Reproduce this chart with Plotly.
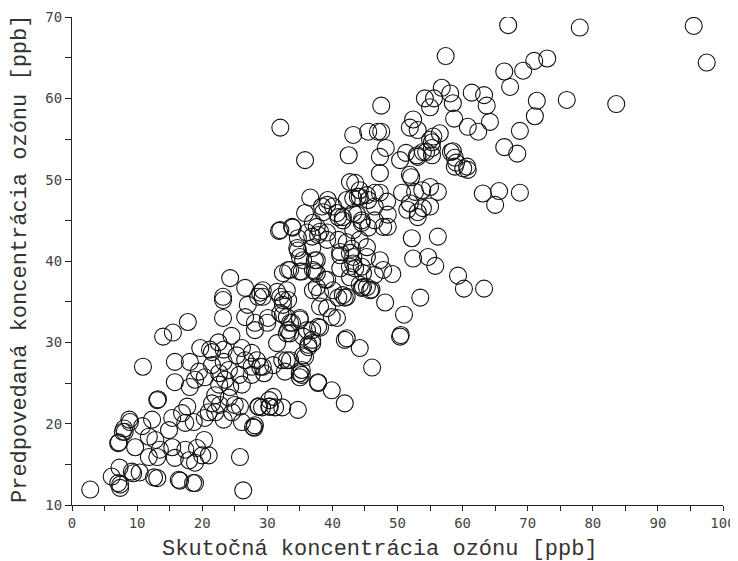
import plotly.graph_objects as go

# Actual (measured) ozone concentration [ppb]
actual = [
    67.0, 78.0, 95.5, 97.5, 57.4, 66.4, 69.3, 71.0, 73.0, 67.3, 56.8, 58.1, 58.5, 55.6, 61.4, 63.3, 63.7, 64.2, 71.4, 71.1,
    76.0, 83.6, 68.8, 66.4, 68.4, 62.4, 60.8, 58.7, 56.5, 55.5, 55.3, 58.5, 58.8, 60.1, 60.7, 56.2, 63.1, 65.6, 65.0, 68.8,
    55.0, 52.2, 56.2, 52.4, 54.7, 55.8, 59.3, 60.2, 63.3, 53.5, 48.1, 51.0, 50.5, 47.3, 49.2, 46.5, 45.3, 45.8, 47.8, 48.5,
    50.7, 53.8, 51.5, 53.1, 53.9, 53.1, 47.5, 54.2, 55.0, 52.4, 51.9, 53.1, 43.2, 47.0, 47.5, 42.5, 47.3, 50.4, 53.0, 53.9,
    55.3, 55.3, 58.8, 60.8, 35.8, 43.5, 47.3, 51.9, 55.0, 52.7, 51.9, 45.3, 47.3, 43.9, 46.5, 48.4, 48.5, 43.8, 41.6, 40.1,
    38.6, 36.6, 39.3, 42.2, 48.2, 52.1, 51.3, 53.1, 54.4, 55.0, 58.2, 59.0, 45.5, 45.5, 46.5, 32.0, 42.7, 44.2, 43.2, 35.8,
    38.4, 33.9, 32.0, 31.8, 34.7, 36.9, 37.8, 39.2, 40.9, 41.6, 43.2, 44.5, 41.2, 42.7, 43.0, 37.3, 35.0, 34.6, 33.5, 35.3,
    37.3, 24.3, 43.2, 23.2, 28.9, 31.5, 33.0, 32.0, 32.4, 28.1, 26.6, 30.0, 32.0, 33.5, 33.5, 35.0, 36.9, 38.1, 37.0, 37.6,
    38.1, 39.2, 40.1, 41.6, 41.9, 40.9, 42.2, 39.2, 40.7, 42.2, 44.7, 46.0, 35.5, 37.6, 35.0, 37.6, 34.7, 36.9, 36.1, 37.0,
    37.6, 38.1, 39.2, 40.9, 41.2, 43.2, 43.5, 44.5, 45.3, 42.2, 44.2, 45.3, 43.2, 44.5, 45.5, 46.5, 40.7, 39.2, 33.8, 44.2,
    42.7, 44.2, 41.9, 44.2, 46.1, 50.4, 47.8, 44.5, 39.9, 38.1, 36.9, 35.8, 33.5, 32.3, 35.3, 37.8, 39.9, 41.9, 34.7, 32.3,
    31.2, 29.2, 28.1, 32.4, 33.2, 37.0, 38.9, 41.2, 42.7, 44.7, 29.3, 28.6, 32.4, 30.1, 33.0, 33.2, 35.5, 36.3, 31.5, 28.4,
    29.3, 27.6, 35.0, 2.8, 10.9, 14.0, 15.5, 17.8, 13.2, 23.2, 23.2, 26.6, 27.0, 28.1, 29.3, 32.4, 33.2, 33.8, 33.0, 35.0,
    36.1, 37.8, 36.9, 36.3, 35.5, 33.0, 32.7, 30.9, 35.3, 35.0, 37.8, 30.4, 28.6, 30.9, 27.8, 26.1, 25.8, 26.3, 18.6, 16.6,
    13.1, 9.4, 6.1, 7.3, 7.1, 8.1, 8.9, 7.1, 7.4, 7.4, 9.2, 10.4, 12.6, 16.4, 18.9, 7.2, 8.0, 7.8, 8.8, 10.8,
    12.3, 9.7, 11.8, 12.8, 13.1, 11.8, 13.5, 15.4, 15.8, 18.0, 18.9, 20.0, 21.0, 20.3, 19.2, 17.4, 14.9, 15.4, 16.9, 17.4,
    17.7, 18.7, 20.4, 21.0, 22.0, 21.5, 23.3, 24.1, 25.0, 25.8, 28.0, 28.7, 30.3, 13.1, 15.8, 18.1, 19.5, 20.4, 15.8, 18.1,
    18.9, 21.5, 22.6, 23.5, 24.1, 23.3, 25.7, 26.1, 27.6, 28.9, 29.5, 26.6, 26.1, 23.3, 21.2, 19.7, 25.3, 27.6, 30.3, 22.6,
    24.3, 22.0, 24.6, 22.7, 24.5, 22.5, 21.5,
]

# Predicted ozone concentration [ppb]
predicted = [
    69.0, 68.7, 68.9, 64.4, 65.2, 63.3, 63.4, 64.6, 64.9, 61.4, 61.3, 60.6, 59.4, 60.0, 60.7, 60.4, 59.1, 57.1, 59.7, 57.8,
    59.8, 59.3, 56.0, 54.0, 53.2, 55.9, 56.5, 57.5, 55.7, 55.3, 53.0, 53.5, 51.6, 51.4, 51.6, 48.5, 48.3, 48.6, 46.9, 48.4,
    46.7, 42.8, 43.0, 40.3, 40.5, 39.4, 38.2, 36.6, 36.6, 35.5, 34.9, 33.4, 30.9, 40.1, 38.4, 38.3, 36.8, 36.4, 44.2, 44.2,
    48.4, 48.7, 46.3, 46.0, 46.5, 45.4, 59.1, 60.0, 58.9, 57.4, 56.4, 56.1, 55.5, 55.9, 55.9, 53.0, 52.8, 52.4, 53.0, 53.4,
    53.9, 54.6, 52.7, 51.2, 52.4, 49.6, 50.8, 50.6, 49.1, 48.5, 47.1, 48.1, 48.4, 47.9, 46.7, 47.3, 45.7, 45.7, 45.4, 46.7,
    46.0, 47.8, 47.5, 47.5, 53.9, 50.3, 53.3, 52.8, 53.4, 54.9, 53.4, 52.1, 55.9, 47.5, 48.4, 56.4, 49.7, 48.7, 47.7, 45.9,
    46.7, 44.1, 43.8, 43.7, 42.8, 43.0, 43.2, 42.6, 45.4, 45.0, 45.9, 45.0, 40.7, 41.0, 41.5, 40.1, 40.5, 41.6, 38.9, 38.7,
    38.7, 37.9, 39.7, 35.6, 36.1, 36.2, 36.4, 35.6, 34.6, 32.4, 33.1, 32.4, 33.6, 32.4, 31.1, 33.0, 31.5, 34.4, 36.4, 36.8,
    36.1, 37.7, 36.4, 35.8, 35.5, 35.5, 35.6, 34.2, 33.0, 30.5, 36.8, 36.5, 40.1, 40.1, 38.7, 38.5, 41.3, 41.6, 43.5, 44.7,
    44.2, 43.6, 43.5, 42.6, 41.1, 40.5, 39.1, 39.3, 40.5, 42.3, 42.6, 41.7, 43.8, 44.7, 44.1, 45.0, 45.9, 46.9, 44.2, 47.9,
    38.0, 37.1, 30.3, 29.3, 26.9, 30.7, 38.9, 36.7, 33.1, 31.8, 29.9, 28.2, 27.8, 27.8, 26.0, 25.1, 24.1, 22.5, 21.7, 22.0,
    22.0, 22.0, 19.8, 38.5, 38.9, 38.9, 37.7, 39.1, 39.3, 38.5, 36.4, 35.6, 35.2, 33.0, 33.1, 31.5, 30.7, 29.4, 29.9, 27.8,
    27.0, 27.0, 26.2, 11.9, 27.0, 30.7, 31.2, 32.5, 23.0, 35.2, 33.0, 36.7, 34.6, 31.5, 35.6, 33.4, 35.2, 32.4, 31.1, 32.8,
    31.5, 31.9, 30.3, 29.7, 28.4, 27.8, 26.4, 27.2, 26.6, 25.7, 25.0, 22.1, 22.1, 23.3, 19.6, 20.2, 15.9, 11.8, 12.7, 13.0,
    13.3, 13.9, 13.5, 14.6, 17.6, 19.0, 20.2, 12.7, 12.1, 12.5, 14.1, 14.0, 13.4, 13.1, 12.7, 17.7, 19.4, 19.0, 20.5, 19.7,
    20.5, 17.1, 18.4, 18.0, 15.9, 15.9, 16.8, 17.1, 15.8, 15.5, 15.2, 16.1, 16.1, 18.0, 17.0, 16.8, 19.2, 20.7, 21.3, 20.1,
    22.1, 20.2, 20.7, 21.4, 21.4, 22.5, 20.5, 23.2, 22.3, 22.1, 19.5, 22.1, 22.1, 22.9, 27.6, 27.6, 26.4, 25.7, 25.1, 24.5,
    25.4, 27.2, 26.2, 25.4, 26.6, 27.6, 26.0, 24.8, 26.0, 27.0, 26.2, 27.8, 29.3, 29.1, 29.1, 29.3, 28.4, 28.7, 22.9, 24.8,
    24.5, 23.5, 21.4, 22.3, 30.8, 30.0, 28.8,
]

x_ticks = [0, 10, 20, 30, 40, 50, 60, 70, 80, 90, 100]
y_ticks = [10, 20, 30, 40, 50, 60, 70]

x_title = "Skutočná koncentrácia ozónu [ppb]"
y_title = "Predpovedaná koncentrácia ozónu [ppb]"

fig = go.Figure(
    go.Scatter(
        x=actual,
        y=predicted,
        mode="markers",
        marker=dict(
            symbol="circle-open",
            size=17,
            color="#111111",
            line=dict(width=1.1, color="#111111"),
        ),
        hoverinfo="x+y",
        showlegend=False,
    )
)

tick_font = dict(family="DejaVu Sans Mono", size=14, color="#444444")
title_font = dict(family="Liberation Mono", size=22, color="#333333")

# The page adds an 8 px body margin, so the figure is sized to fit inside it.
fig.update_layout(
    width=730,
    height=553,
    margin=dict(l=64, r=15, t=9, b=56),
    paper_bgcolor="white",
    plot_bgcolor="white",
    xaxis=dict(
        range=[0, 100],
        tickvals=x_ticks,
        ticktext=[str(v) for v in x_ticks],
        ticks="outside",
        ticklen=5,
        tickwidth=1,
        tickcolor="#222222",
        showline=True,
        linecolor="#222222",
        linewidth=1,
        showgrid=False,
        zeroline=False,
        automargin=False,
        tickfont=tick_font,
        minor=dict(ticks="outside", dtick=5, ticklen=5, tickcolor="#222222", showgrid=False),
    ),
    yaxis=dict(
        range=[10, 70],
        tickvals=y_ticks,
        ticktext=[str(v) for v in y_ticks],
        ticks="outside",
        ticklen=6,
        tickwidth=1,
        tickcolor="#222222",
        showline=True,
        linecolor="#222222",
        linewidth=1,
        showgrid=False,
        zeroline=False,
        automargin=False,
        tickfont=tick_font,
        minor=dict(ticks="outside", dtick=5, ticklen=6, tickcolor="#222222", showgrid=False),
    ),
    annotations=[
        dict(
            text=x_title, xref="paper", yref="paper", x=0.473, y=0,
            xanchor="center", yanchor="middle", yshift=-44, showarrow=False,
            font=title_font,
        ),
        dict(
            text=y_title, xref="paper", yref="paper", x=0, y=0.5,
            xanchor="center", yanchor="middle", xshift=-52, yshift=2, textangle=-90,
            showarrow=False, font=title_font,
        ),
    ],
)

fig.write_html("out.html")
